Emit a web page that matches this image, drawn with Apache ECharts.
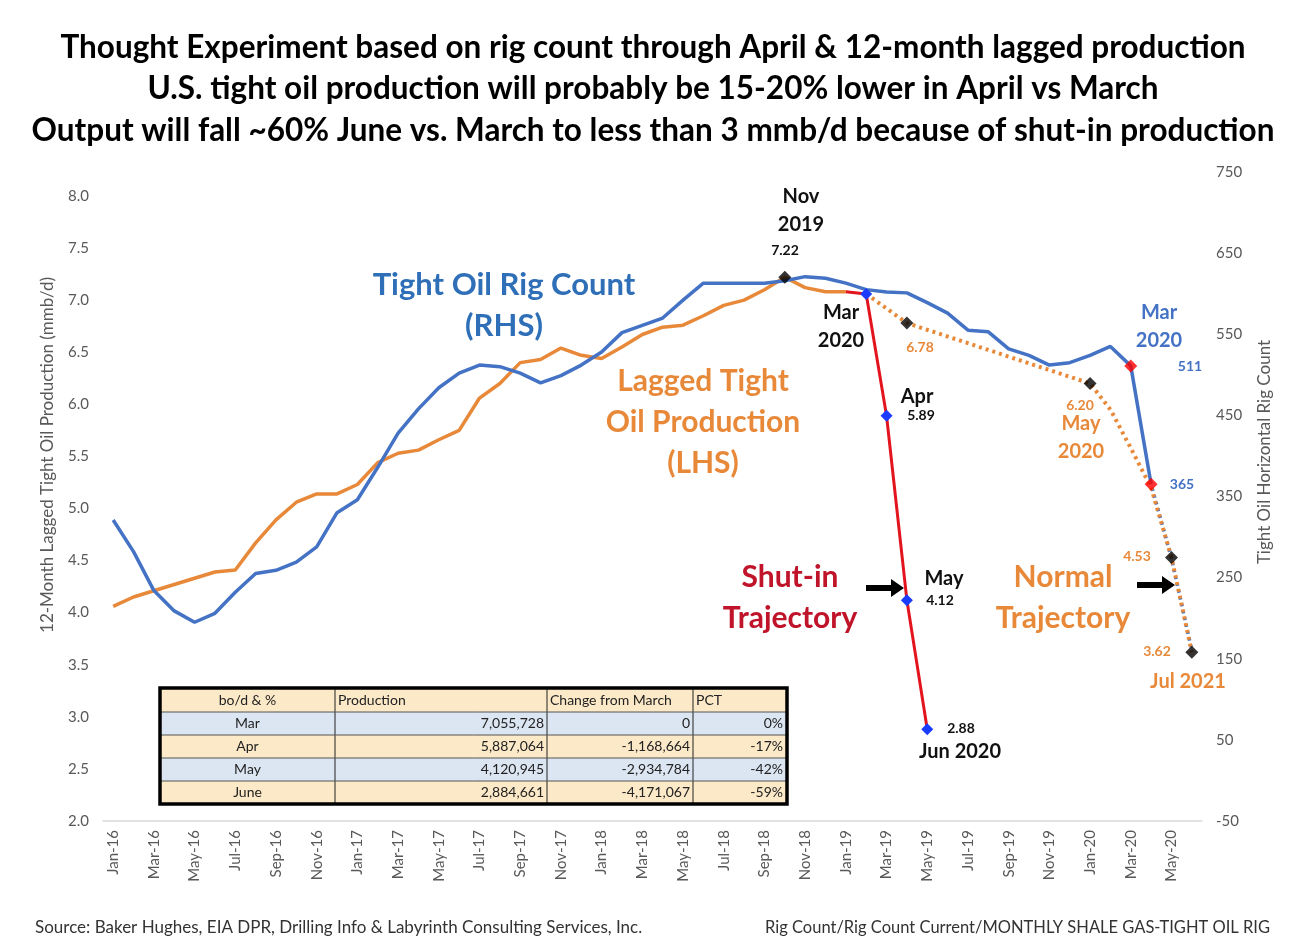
<!DOCTYPE html>
<html>
<head>
<meta charset="utf-8">
<script src="https://cdn.jsdelivr.net/npm/echarts@6/dist/echarts.min.js"></script>
<style>
  html, body { margin: 0; padding: 0; background: #fff; }
  #chart { width: 1306px; height: 940px; }
</style>
</head>
<body>
<div id="chart"></div>
<script>
// categories (12-month lagged axis)
var months = [
  'Jan-16','Feb-16','Mar-16','Apr-16','May-16','Jun-16','Jul-16','Aug-16','Sep-16','Oct-16','Nov-16','Dec-16',
  'Jan-17','Feb-17','Mar-17','Apr-17','May-17','Jun-17','Jul-17','Aug-17','Sep-17','Oct-17','Nov-17','Dec-17',
  'Jan-18','Feb-18','Mar-18','Apr-18','May-18','Jun-18','Jul-18','Aug-18','Sep-18','Oct-18','Nov-18','Dec-18',
  'Jan-19','Feb-19','Mar-19','Apr-19','May-19','Jun-19','Jul-19','Aug-19','Sep-19','Oct-19','Nov-19','Dec-19',
  'Jan-20','Feb-20','Mar-20','Apr-20','May-20','Jun-20'
];

// tight oil horizontal rig count (RHS), Jan-16 .. Apr-20
var rigCount = [321,282,234,209,195,206,232,255,259,269,288,330,
  346,386,428,458,484,502,512,510,502,490,499,512,
  528,552,561,570,592,613,613,613,613,616,621,619,
  613,605,602,601,589,576,555,553,532,524,512,515,
  524,535,511,365];
// rig count outlook (dotted)
var rigOutlook = [['Apr-20',365],['May-20',274],['Jun-20',160]];

// 12-month lagged tight oil production (LHS, mmb/d)
var prodLagged = [4.06,4.15,4.21,4.27,4.33,4.39,4.41,4.67,4.89,5.06,5.14,5.14,
  5.23,5.44,5.53,5.56,5.66,5.75,6.06,6.20,6.40,6.43,6.54,6.47,
  6.44,6.55,6.67,6.74,6.76,6.85,6.95,7.00,7.10,7.22,7.12,7.08,
  7.08];
// shut-in trajectory (red)
var shutIn = [['Jan-19',7.08],['Feb-19',7.06],['Mar-19',5.89],['Apr-19',4.12],['May-19',2.88]];
// normal trajectory (orange dotted)
var normalTraj = [['Feb-19',7.06],['Apr-19',6.78],['Jan-20',6.20],['Feb-20',5.95],['Mar-20',5.58],['Apr-20',5.20],['May-20',4.53],['Jun-20',3.62]];
// highlighted points
var blackPts = [['Oct-18',7.22],['Apr-19',6.78],['Jan-20',6.20],['May-20',4.53],['Jun-20',3.62]];
var redPts = [['Mar-20',511],['Apr-20',365]];

// table
var tableHead = ['bo/d & %','Production','Change from March','PCT'];
var tableMonths = ['Mar','Apr','May','June'];
var tableProd = ['7,055,728','5,887,064','4,120,945','2,884,661'];
var tableChange = ['0','-1,168,664','-2,934,784','-4,171,067'];
var tablePct = ['0%','-17%','-42%','-59%'];

var titleLines = [
  'Thought Experiment based on rig count through April & 12-month lagged production',
  'U.S. tight oil production will probably be 15-20% lower in April vs March',
  'Output will fall ~60% June vs. March to less than 3 mmb/d because of shut-in production'
];

var FONT = 'Lato, "Open Sans", sans-serif';
var BLUE = '#4472C4', ORANGE = '#E8893A', RED = '#E3141E', DKRED = '#C0142A';

var chart = echarts.init(document.getElementById('chart'));

function txt(x, y, s, size, color, align) {
  return {
    type: 'text', x: x, y: y, z: 100,
    style: { text: s, fill: color, font: 'bold ' + size + 'px ' + FONT,
      textAlign: align || 'center', textVerticalAlign: 'middle' }
  };
}
function arrow(x0, x1, y) {
  return {
    type: 'polygon', z: 100,
    shape: { points: [[x0, y - 3], [x1 - 13, y - 3], [x1 - 13, y - 9], [x1, y], [x1 - 13, y + 9], [x1 - 13, y + 3], [x0, y + 3]] },
    style: { fill: '#000' }
  };
}

// table graphic
var colX = [160, 335, 547, 693, 787];
var rowY = [688, 712, 735, 758, 781, 804];
var tbl = [];
for (var r = 0; r < 5; r++) {
  tbl.push({ type: 'rect', z: 50, shape: { x: colX[0], y: rowY[r], width: colX[4] - colX[0], height: rowY[r + 1] - rowY[r] },
    style: { fill: (r % 2 === 0) ? '#FCE9C8' : '#DCE6F2' } });
}
for (var c = 1; c < 4; c++) {
  tbl.push({ type: 'line', z: 51, shape: { x1: colX[c], y1: rowY[0], x2: colX[c], y2: rowY[5] }, style: { stroke: '#222', lineWidth: 1 } });
}
for (var r2 = 1; r2 < 5; r2++) {
  tbl.push({ type: 'line', z: 51, shape: { x1: colX[0], y1: rowY[r2], x2: colX[4], y2: rowY[r2] }, style: { stroke: '#555', lineWidth: 1 } });
}
tbl.push({ type: 'rect', z: 52, shape: { x: colX[0], y: rowY[0], width: colX[4] - colX[0], height: rowY[5] - rowY[0] },
  style: { fill: null, stroke: '#000', lineWidth: 3.5 } });
function cell(x, y, s, align) {
  return { type: 'text', x: x, y: y, z: 53,
    style: { text: s, fill: '#222', font: '14px ' + FONT, textAlign: align, textVerticalAlign: 'middle' } };
}
tbl.push(cell((colX[0] + colX[1]) / 2, (rowY[0] + rowY[1]) / 2, tableHead[0], 'center'));
tbl.push(cell(colX[1] + 3, (rowY[0] + rowY[1]) / 2, tableHead[1], 'left'));
tbl.push(cell(colX[2] + 3, (rowY[0] + rowY[1]) / 2, tableHead[2], 'left'));
tbl.push(cell(colX[3] + 3, (rowY[0] + rowY[1]) / 2, tableHead[3], 'left'));
for (var i = 0; i < 4; i++) {
  var cy = (rowY[i + 1] + rowY[i + 2]) / 2;
  tbl.push(cell((colX[0] + colX[1]) / 2, cy, tableMonths[i], 'center'));
  tbl.push(cell(colX[2] - 3, cy, tableProd[i], 'right'));
  tbl.push(cell(colX[3] - 3, cy, tableChange[i], 'right'));
  tbl.push(cell(colX[4] - 4, cy, tablePct[i], 'right'));
}

var notes = [
  txt(504, 285, 'Tight Oil Rig Count', 31, '#2F6FB8'),
  txt(504, 326, '(RHS)', 31, '#2F6FB8'),
  txt(703, 381, 'Lagged Tight', 30, ORANGE),
  txt(703, 422, 'Oil Production', 30, ORANGE),
  txt(703, 463, '(LHS)', 30, ORANGE),
  txt(801, 197, 'Nov', 20, '#111'),
  txt(801, 225, '2019', 20, '#111'),
  txt(785, 250, '7.22', 14, '#111'),
  txt(841, 313, 'Mar', 20, '#111'),
  txt(841, 341, '2020', 20, '#111'),
  txt(920, 347, '6.78', 14, ORANGE),
  txt(917, 397, 'Apr', 20, '#111'),
  txt(921, 415, '5.89', 14, '#111'),
  txt(944, 579, 'May', 20, '#111'),
  txt(940, 600, '4.12', 14, '#111'),
  txt(961, 728, '2.88', 14, '#111'),
  txt(960, 752, 'Jun 2020', 20, '#111'),
  txt(790, 577, 'Shut-in', 30, DKRED),
  txt(790, 618, 'Trajectory', 30, DKRED),
  txt(1063, 577, 'Normal', 30, ORANGE),
  txt(1063, 618, 'Trajectory', 30, ORANGE),
  txt(1159, 313, 'Mar', 20, BLUE),
  txt(1159, 341, '2020', 20, BLUE),
  txt(1190, 366, '511', 14, BLUE),
  txt(1182, 484, '365', 14, BLUE),
  txt(1080, 405, '6.20', 14, ORANGE),
  txt(1081, 424, 'May', 20, ORANGE),
  txt(1081, 452, '2020', 20, ORANGE),
  txt(1137, 556, '4.53', 14, ORANGE),
  txt(1157, 651, '3.62', 14, ORANGE),
  txt(1188, 682, 'Jul 2021', 20, ORANGE),
  arrow(866, 904, 588),
  arrow(1137, 1175, 585),
  { type: 'text', x: 48, y: 455, rotation: Math.PI / 2,
    style: { text: '12-Month Lagged Tight Oil Production (mmb/d)', fill: '#595959', font: '17px ' + FONT, textAlign: 'center', textVerticalAlign: 'middle' } },
  { type: 'text', x: 1265, y: 452, rotation: Math.PI / 2,
    style: { text: 'Tight Oil Horizontal Rig Count', fill: '#595959', font: '17px ' + FONT, textAlign: 'center', textVerticalAlign: 'middle' } },
  { type: 'text', x: 35, y: 928,
    style: { text: 'Source: Baker Hughes, EIA DPR, Drilling Info & Labyrinth Consulting Services, Inc.', fill: '#333', font: '17px ' + FONT, textAlign: 'left', textVerticalAlign: 'middle' } },
  { type: 'text', x: 1270, y: 928,
    style: { text: 'Rig Count/Rig Count Current/MONTHLY SHALE GAS-TIGHT OIL RIG', fill: '#333', font: '16.5px ' + FONT, textAlign: 'right', textVerticalAlign: 'middle' } }
];

var option = {
  animation: false,
  backgroundColor: '#fff',
  title: {
    text: titleLines.join('\n'),
    left: 'center',
    top: 22,
    textStyle: { fontFamily: FONT, fontSize: 31.5, fontWeight: 'bold', color: '#000', lineHeight: 41.5 }
  },
  grid: { left: 103, right: 104, top: 172, bottom: 119 },
  xAxis: {
    type: 'category',
    data: months,
    axisLine: { onZero: false, lineStyle: { color: '#D9D9D9', width: 1.5 } },
    axisTick: { show: false },
    axisLabel: { interval: 1, rotate: 90, color: '#595959', fontSize: 15, fontFamily: FONT, margin: 9 }
  },
  yAxis: [
    {
      type: 'value', min: 2, max: 8.23, interval: 0.5,
      axisLine: { show: false }, axisTick: { show: false }, splitLine: { show: false },
      axisLabel: { color: '#595959', fontSize: 15, fontFamily: FONT, margin: 14,
        formatter: function (v) { return Math.abs(v * 2 - Math.round(v * 2)) < 1e-6 ? v.toFixed(1) : ''; } }
    },
    {
      type: 'value', min: -50, max: 750, interval: 100,
      axisLine: { show: false }, axisTick: { show: false }, splitLine: { show: false },
      axisLabel: { color: '#595959', fontSize: 15, fontFamily: FONT, margin: 14 }
    }
  ],
  graphic: tbl.concat(notes),
  series: [
    { name: 'Lagged Tight Oil Production', type: 'line', yAxisIndex: 0, data: prodLagged,
      symbol: 'none', lineStyle: { color: ORANGE, width: 3.5 }, z: 2 },
    { name: 'Normal Trajectory', type: 'line', yAxisIndex: 0, data: normalTraj,
      symbol: 'none', lineStyle: { color: ORANGE, width: 4, type: [3, 4] }, z: 4 },
    { name: 'Tight Oil Rig Count', type: 'line', yAxisIndex: 1, data: rigCount,
      symbol: 'none', lineStyle: { color: BLUE, width: 3.5 }, z: 3 },
    { name: 'Rig Count Outlook', type: 'line', yAxisIndex: 1, data: rigOutlook,
      symbol: 'none', lineStyle: { color: BLUE, width: 3.5, type: [3, 4], dashOffset: 3 }, z: 3 },
    { name: 'Shut-in Trajectory', type: 'line', yAxisIndex: 0,
      data: shutIn.map(function (d, k) { return k === 0 ? { value: d, symbol: 'none' } : d; }),
      symbol: 'diamond', symbolSize: 12, showAllSymbol: true,
      itemStyle: { color: '#1A3CFF' }, lineStyle: { color: RED, width: 3 }, z: 5 },
    { name: 'Points', type: 'scatter', yAxisIndex: 0, data: blackPts,
      symbol: 'diamond', symbolSize: 13, itemStyle: { color: '#000' }, z: 6 },
    { name: 'Rig Points', type: 'scatter', yAxisIndex: 1, data: redPts,
      symbol: 'diamond', symbolSize: 13, itemStyle: { color: '#FF0000' }, z: 6 }
  ]
};
chart.setOption(option);
</script>
</body>
</html>
